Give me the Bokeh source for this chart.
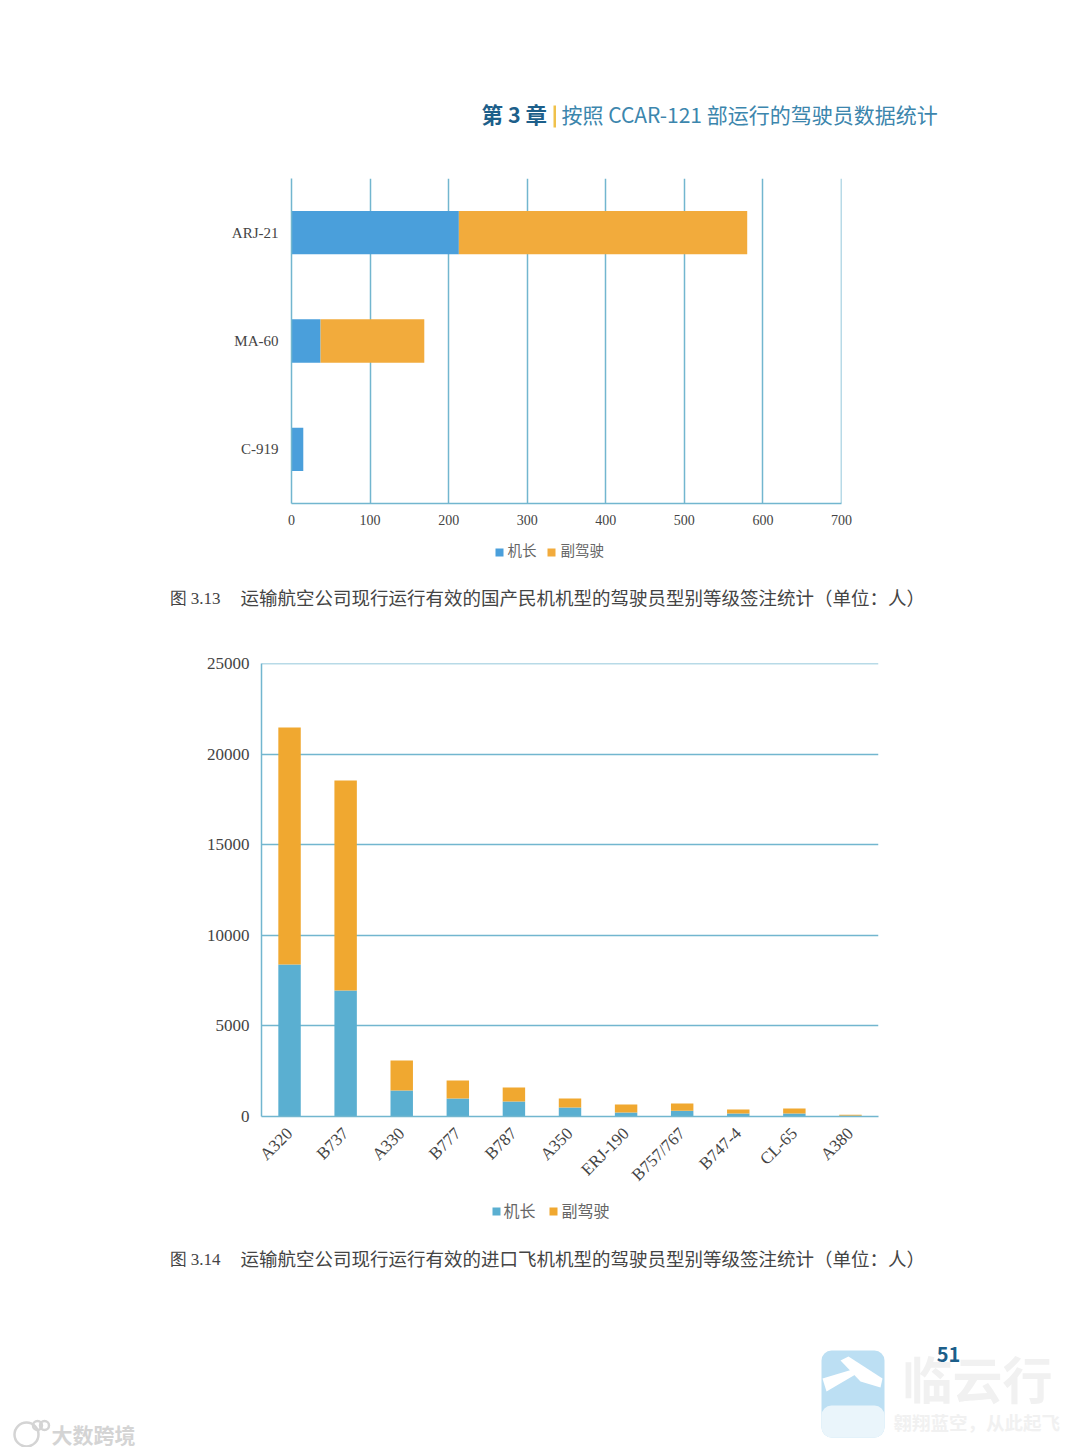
from bokeh.plotting import figure
from bokeh.layouts import column
from bokeh.models import Label, BoxAnnotation, Range1d, FixedTicker, Span
from bokeh.embed import file_html
from bokeh.resources import INLINE

ROLES = ["机长", "副驾驶"]
DOM_TYPES = ["C-919", "MA-60", "ARJ-21"]
DOM_CAPT = [15, 37, 213]
DOM_FO = [0, 132, 367]
DOM_TICKS = [0, 100, 200, 300, 400, 500, 600, 700]

IMP_TYPES = ["A320", "B737", "A330", "B777", "B787", "A350", "ERJ-190", "B757/767", "B747-4", "CL-65", "A380"]
IMP_CAPT = [8390, 6950, 1435, 990, 830, 500, 220, 320, 170, 170, 40]
IMP_FO = [13080, 11590, 1655, 1000, 770, 490, 440, 400, 220, 270, 50]
IMP_TICKS = [0, 5000, 10000, 15000, 20000, 25000]

HEAD_BOLD = "第 3 章"
HEAD_REST = "按照 CCAR-121 部运行的驾驶员数据统计"
CAP1_NO = "图 3.13"
CAP1 = "运输航空公司现行运行有效的国产民机机型的驾驶员型别等级签注统计（单位：人）"
CAP2_NO = "图 3.14"
CAP2 = "运输航空公司现行运行有效的进口飞机机型的驾驶员型别等级签注统计（单位：人）"

W = 1072
GRID = "#72b6cf"
SERIF = "Liberation Serif"
CJK = "Noto Sans CJK SC"
# page rows, top to bottom
Y0, Y1, Y2, Y3, Y4, Y5 = 0, 170, 530, 640, 1195, 1447


def strip(top, bottom):
    """A figure without axes whose data coordinates are the page's own pixels."""
    s = figure(width=W, height=bottom - top, x_range=Range1d(0, W), y_range=Range1d(bottom, top),
               x_axis_type=None, y_axis_type=None, output_backend="svg", toolbar_location=None,
               min_border=0, frame_align=False)
    s.outline_line_color = None
    return s


def put(p, text, x, y, size, color, font=CJK, style="normal", align="left"):
    p.add_layout(Label(x=x, y=y, text=text, text_font=font, text_font_size=f"{size}px", text_color=color,
                       text_font_style=style, text_align=align, text_baseline="middle"))


def box(p, l, r, t, b, color, radius=0):
    p.add_layout(BoxAnnotation(left=l, right=r, top=t, bottom=b, fill_color=color, fill_alpha=1,
                               line_color=None, border_radius=radius, level="underlay"))


def style_axes(p, size):
    for ax in (p.xaxis[0], p.yaxis[0]):
        ax.major_tick_line_color = None
        ax.minor_tick_line_color = None
        ax.axis_line_color = GRID
        ax.axis_line_width = 1.5
        ax.major_label_text_font = SERIF
        ax.major_label_text_font_size = f"{size}px"
        ax.major_label_text_color = "#444444"
    p.outline_line_color = None
    p.background_fill_color = None


s0 = strip(Y0, Y1)
box(s0, 553, 555.5, 105, 127, "#f0c14b")
put(s0, HEAD_BOLD, 481, 113, 21.5, "#1d5f8a", style="bold")
put(s0, HEAD_REST, 561, 113, 21, "#3c86ad")

p1 = figure(width=W, height=Y2 - Y1, y_range=DOM_TYPES, x_range=Range1d(0, 700), output_backend="svg",
            toolbar_location=None, min_border_left=291, min_border_right=W - 841,
            min_border_top=178 - Y1, min_border_bottom=Y2 - 503, frame_align=False)
p1.hbar_stack(["c", "f"], y="t", height=0.4, color=["#4a9fdb", "#f2ab3c"], line_color=None,
              source=dict(t=DOM_TYPES, c=DOM_CAPT, f=DOM_FO))
style_axes(p1, 14)
p1.xaxis[0].ticker = FixedTicker(ticks=DOM_TICKS)
p1.xaxis[0].major_label_standoff = 5
p1.yaxis[0].major_label_standoff = 7
p1.yaxis[0].major_label_text_font_size = "15px"
p1.ygrid.grid_line_color = None
p1.xgrid.grid_line_color = GRID
p1.xgrid.grid_line_width = 1.5
p1.xgrid.ticker = FixedTicker(ticks=DOM_TICKS)
p1.add_layout(Span(location=DOM_TICKS[-1], dimension="height", line_color=GRID, line_width=1.5))

s1 = strip(Y2, Y3)
box(s1, 495, 503, 548, 556, "#4a9fdb")
put(s1, ROLES[0], 507, 549, 14.5, "#666666")
box(s1, 547, 555, 548, 556, "#f2ab3c")
put(s1, ROLES[1], 560, 549, 14.5, "#666666")
put(s1, CAP1_NO, 169, 598, 17, "#444444", font=SERIF)
put(s1, CAP1, 240, 596, 18.5, "#444444")

p2 = figure(width=W, height=Y4 - Y3, x_range=IMP_TYPES, y_range=Range1d(0, 25000), output_backend="svg",
            toolbar_location=None, min_border_left=261, min_border_right=W - 878,
            min_border_top=663 - Y3, min_border_bottom=Y4 - 1116, frame_align=False)
p2.vbar_stack(["c", "f"], x="t", width=0.4, color=["#5aafd1", "#f0a830"], line_color=None,
              source=dict(t=IMP_TYPES, c=IMP_CAPT, f=IMP_FO))
style_axes(p2, 17)
p2.yaxis[0].ticker = FixedTicker(ticks=IMP_TICKS)
p2.yaxis[0].major_label_standoff = 6
p2.xaxis[0].major_label_orientation = 0.785
p2.xaxis[0].major_label_standoff = 8
p2.xgrid.grid_line_color = None
p2.ygrid.grid_line_color = GRID
p2.ygrid.grid_line_width = 1.5
p2.ygrid.ticker = FixedTicker(ticks=IMP_TICKS)
p2.add_layout(Span(location=IMP_TICKS[-1], dimension="width", line_color=GRID, line_width=1.5))

s2 = strip(Y4, Y5)
box(s2, 492, 500, 1207, 1215, "#5aafd1")
put(s2, ROLES[0], 503, 1209, 16, "#666666")
box(s2, 549, 557, 1207, 1215, "#f0a830")
put(s2, ROLES[1], 561, 1209, 16, "#666666")
put(s2, CAP2_NO, 169, 1259, 17, "#444444", font=SERIF)
put(s2, CAP2, 240, 1257, 18.5, "#444444")

# faint page watermarks
box(s2, 821, 884, 1350, 1437, "#bcdff3", 10)
box(s2, 821, 884, 1405, 1437, "#eaf5fb", 10)
s2.patch([840, 848, 882, 880, 860], [1360, 1356, 1378, 1387, 1381], color="white", line_color=None)
s2.patch([822, 852, 855, 826], [1378, 1369, 1374, 1391], color="white", line_color=None)
put(s2, "临云行", 902, 1376, 50, "#f1f1f1", style="bold")
put(s2, "翱翔蓝空，从此起飞", 893, 1421, 18.5, "#f1f1f1", style="bold")
put(s2, "51", 948, 1354, 20, "#1d5f8a", style="bold", align="center")
put(s2, "大数跨境", 51, 1433, 21, "#d4d4d4", style="bold")
s2.scatter([26, 37, 44], [1434, 1425, 1425], size=[24, 9, 9], fill_color=None, line_color="#d4d4d4", line_width=2.5)

doc = column(s0, p1, s1, p2, s2, spacing=0)
open("out.html", "w").write(file_html(doc, INLINE))
